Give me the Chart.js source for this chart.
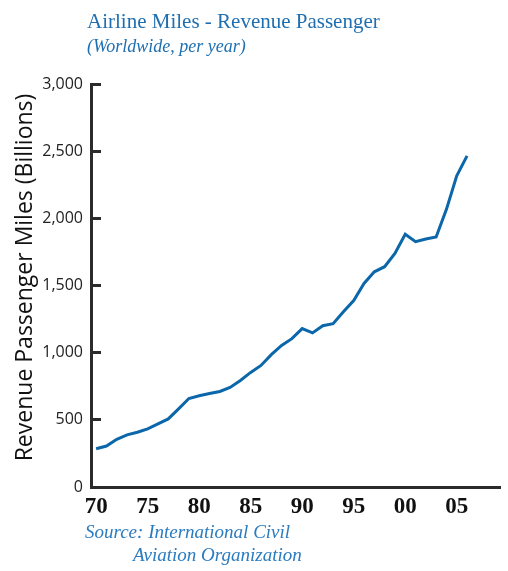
<!DOCTYPE html>
<html>
<head>
<meta charset="utf-8">
<script src="https://cdn.jsdelivr.net/npm/chart.js@4"></script>
<style>
  html, body { margin: 0; padding: 0; background: #ffffff; }
  #c { display: block; }
</style>
</head>
<body>
<canvas id="c" width="508" height="571"></canvas>
<script>
// ---- data ----
const years = [1970,1971,1972,1973,1974,1975,1976,1977,1978,1979,
               1980,1981,1982,1983,1984,1985,1986,1987,1988,1989,
               1990,1991,1992,1993,1994,1995,1996,1997,1998,1999,
               2000,2001,2002,2003,2004,2005,2006];
const passengerMiles = [285,305,355,388,408,433,470,507,582,659,
                        679,696,711,741,793,853,905,985,1054,1104,
                        1179,1147,1201,1216,1304,1388,1515,1602,1640,1739,
                        1881,1826,1846,1861,2067,2316,2465];
const xTickValues = [1970,1975,1980,1985,1990,1995,2000,2005];
const xTickLabels = ['70','75','80','85','90','95','00','05'];
const yTickValues = [0,500,1000,1500,2000,2500,3000];
const yTickLabels = ['0','500','1,000','1,500','2,000','2,500','3,000'];
const titleText = 'Airline Miles - Revenue Passenger';
const subtitleText = '(Worldwide, per year)';
const sourceLines = ['Source: International Civil', 'Aviation Organization'];
const yAxisTitle = 'Revenue Passenger Miles (Billions)';

const AXIS = '#2b2b2b';
const BLUE_LINE = '#0b67a9';
const BLUE_TEXT = '#1f6fb0';

const textPlugin = {
  id: 'texts',
  afterDraw(chart) {
    const ctx = chart.ctx;
    ctx.save();
    ctx.textAlign = 'left';
    ctx.textBaseline = 'alphabetic';
    ctx.fillStyle = BLUE_TEXT;
    ctx.font = '21px "Liberation Serif"';
    ctx.fillText(titleText, 87, 28);
    ctx.font = 'italic 18px "Liberation Serif"';
    ctx.fillText(subtitleText, 87, 52);
    ctx.fillStyle = '#2a7bbf';
    ctx.font = 'italic 19px "Liberation Serif"';
    ctx.fillText(sourceLines[0], 85, 538);
    ctx.fillText(sourceLines[1], 133, 561);
    // rotated y-axis title
    ctx.translate(32, 277.5);
    ctx.rotate(-Math.PI / 2);
    ctx.textAlign = 'center';
    ctx.fillStyle = '#111';
    ctx.font = '23px "Open Sans"';
    ctx.fillText(yAxisTitle, 0, 0);
    ctx.restore();
  }
};

new Chart(document.getElementById('c'), {
  type: 'line',
  data: {
    labels: years,
    datasets: [{
      data: years.map((y, i) => ({x: y, y: passengerMiles[i]})),
      borderColor: BLUE_LINE,
      borderWidth: 3,
      pointRadius: 0,
      tension: 0,
      fill: false
    }]
  },
  options: {
    responsive: false,
    animation: false,
    devicePixelRatio: 1,
    layout: { padding: { top: 84, right: 8, left: 0, bottom: 0 } },
    plugins: { legend: { display: false }, tooltip: { enabled: false }, title: { display: false } },
    scales: {
      x: {
        type: 'linear',
        min: 1969.5,
        max: 2009.2,
        afterFit: s => { s.height = 84; },
        afterBuildTicks: s => { s.ticks = xTickValues.map(v => ({value: v})); },
        grid: { display: false, drawTicks: false },
        border: { display: true, color: AXIS, width: 3 },
        ticks: {
          padding: 6,
          color: '#111',
          font: { family: '"Liberation Serif"', size: 23, weight: 'bold' },
          maxRotation: 0,
          autoSkip: false,
          callback: (v, i) => xTickLabels[i]
        }
      },
      y: {
        min: 0,
        max: 3000,
        afterFit: s => { s.width = 91; },
        afterBuildTicks: s => { s.ticks = yTickValues.map(v => ({value: v})); },
        grid: { drawOnChartArea: false, drawTicks: true, tickLength: -10, color: AXIS, lineWidth: 3 },
        border: { display: true, color: AXIS, width: 3 },
        ticks: {
          padding: 18,
          color: '#222',
          font: { family: '"Open Sans"', size: 16 },
          callback: (v, i) => yTickLabels[i]
        },
        title: { display: false }
      }
    }
  },
  plugins: [textPlugin]
});
</script>
</body>
</html>
